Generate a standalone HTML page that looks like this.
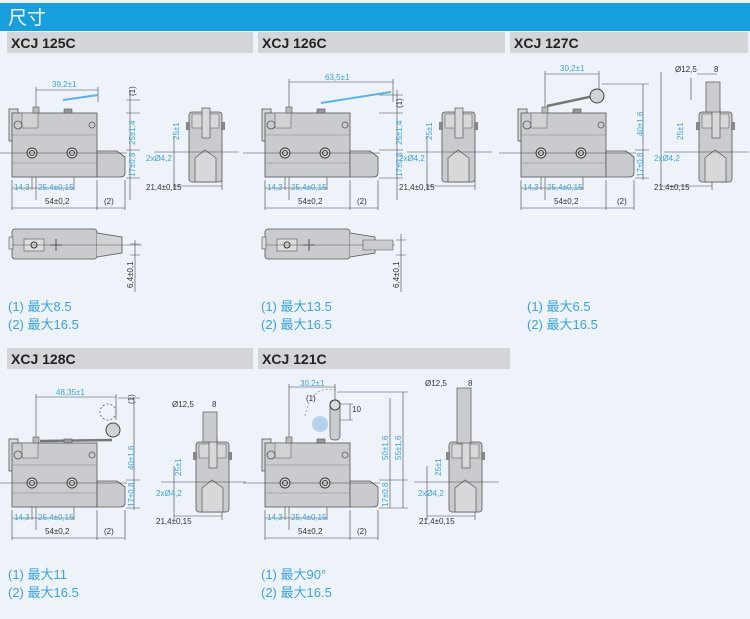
<!DOCTYPE html>
<html><head><meta charset="utf-8"><style>
body{margin:0;width:750px;height:619px;background:#eef3fa;overflow:hidden;font-family:"Liberation Sans","Noto Sans CJK SC",sans-serif}
svg{position:absolute;left:0;top:0}
.d{font-size:8px;fill:#3aa3df}
.k{font-size:8px;fill:#333}
.n{font-size:13px;fill:#3aa3df}
.h{font-size:14px;font-weight:bold;fill:#222}
</style></head><body>
<svg width="750" height="619" viewBox="0 0 750 619">
<defs>
<g id="body">
<rect x="-3" y="-4" width="9" height="32" fill="#d6d8da" stroke="#555" stroke-width="0.8"/>
<rect x="0" y="0" width="85" height="64" fill="#c9cbce" stroke="#555" stroke-width="0.8"/>
<line x1="0" y1="22" x2="85" y2="22" stroke="#888" stroke-width="0.6"/>
<line x1="0" y1="50" x2="85" y2="50" stroke="#888" stroke-width="0.6"/>
<rect x="10" y="0" width="16" height="15" fill="#d0d2d4" stroke="#666" stroke-width="0.6"/>
<rect x="21" y="-6" width="6" height="6" fill="#bbb" stroke="#555" stroke-width="0.6"/>
<rect x="52" y="-4" width="8" height="4" fill="#999" stroke="#555" stroke-width="0.6"/>
<circle cx="6" cy="12" r="4" fill="none" stroke="#555" stroke-width="0.8"/>
<circle cx="80" cy="12" r="3" fill="none" stroke="#555" stroke-width="0.8"/>
<circle cx="20" cy="40" r="5" fill="#ddd" stroke="#333" stroke-width="0.9"/>
<circle cx="20" cy="40" r="2.5" fill="none" stroke="#333"/>
<circle cx="60" cy="40" r="5" fill="#ddd" stroke="#333" stroke-width="0.9"/>
<circle cx="60" cy="40" r="2.5" fill="none" stroke="#333"/>
<path d="M85 38 H105 L113 44 V60 Q113 64 108 64 H85 Z" fill="#c9cbce" stroke="#555" stroke-width="0.8"/>
<line x1="-22" y1="40" x2="115" y2="40" stroke="#444" stroke-width="0.5"/>
</g>
<g id="side">
<rect x="0" y="0" width="33" height="70" rx="3" fill="#c9cbce" stroke="#555" stroke-width="0.8"/>
<rect x="3" y="2" width="27" height="14" fill="#d6d8da" stroke="#666" stroke-width="0.6"/>
<rect x="13" y="-4" width="8" height="30" fill="#d6d8da" stroke="#555" stroke-width="0.7"/>
<rect x="-3" y="10" width="4" height="8" fill="#888"/><rect x="32" y="10" width="4" height="8" fill="#888"/>
<path d="M6 46 L16 38 L27 46 V70 H6 Z" fill="#d6d8da" stroke="#555" stroke-width="0.7"/>
<line x1="-35" y1="40" x2="50" y2="40" stroke="#444" stroke-width="0.5"/>
</g>
<g id="bot">
<rect x="0" y="0" width="85" height="30" rx="3" fill="#c9cbce" stroke="#555" stroke-width="0.8"/>
<rect x="-3" y="8" width="4" height="12" fill="#ddd" stroke="#555" stroke-width="0.6"/>
<rect x="12" y="10" width="20" height="12" fill="#ddd" stroke="#555" stroke-width="0.6"/>
<circle cx="22" cy="16" r="3" fill="none" stroke="#333"/>
<path d="M38 16 H50 M44 10 V22" stroke="#333" stroke-width="0.8"/>
<path d="M85 4 L110 8 V24 L85 28" fill="#d0d2d4" stroke="#555" stroke-width="0.8"/>
<line x1="0" y1="16" x2="130" y2="16" stroke="#555" stroke-width="0.5"/>
</g>
</defs>

<rect x="0" y="3" width="750" height="28" fill="#169fdc"/>
<text x="8" y="24" style="font-size:19px;fill:#fff">尺寸</text>
<rect x="7" y="32" width="246" height="21" fill="#d3d5d8"/>
<rect x="258" y="32" width="247" height="21" fill="#d3d5d8"/>
<rect x="510" y="32" width="238" height="21" fill="#d3d5d8"/>
<rect x="7" y="348" width="246" height="21" fill="#d3d5d8"/>
<rect x="258" y="348" width="252" height="21" fill="#d3d5d8"/>
<text class="h" x="11" y="48">XCJ 125C</text>
<text class="h" x="262" y="48">XCJ 126C</text>
<text class="h" x="514" y="48">XCJ 127C</text>
<text class="h" x="11" y="364">XCJ 128C</text>
<text class="h" x="262" y="364">XCJ 121C</text>

<!-- Panel 1 -->
<g stroke="#444" stroke-width="0.6" fill="none">
<path d="M36 90 H98 M36 87 V200 M98 87 V102 M12 180 V210 M97 180 V210 M125 180 V210 M12 208 H125 M12 188 H74 M32 160 V190 M74 160 V190 M130 90 V200 M126 100 H140 M126 113 H140 M126 150 H140 M126 178 H140 M174 136 V190 M222 180 V190 M174 186 H222"/>
<path d="M63 100 L98 95" stroke="#5bb3e6" stroke-width="2"/>
</g>
<use href="#body" x="12" y="113"/>
<use href="#side" x="189" y="112"/>
<text class="d" x="52" y="87">39,2±1</text>
<text class="k" x="135" y="96" transform="rotate(-90 135 96)">(1)</text>
<text class="d" x="135" y="145" transform="rotate(-90 135 145)">25±1,4</text>
<text class="d" x="135" y="177" transform="rotate(-90 135 177)">17±0,8</text>
<text class="d" x="14" y="190">14,3</text><text class="d" x="38" y="190">25,4±0,15</text>
<text class="k" x="45" y="204">54±0,2</text><text class="k" x="104" y="204">(2)</text>
<text class="d" x="179" y="140" transform="rotate(-90 179 140)">25±1</text>
<text class="d" x="146" y="161">2xØ4,2</text>
<text class="k" x="146" y="190">21,4±0,15</text>
<use href="#bot" x="12" y="229"/>
<path d="M135 240 V292 M130 244 H140 M130 255 H140" stroke="#444" stroke-width="0.6"/>
<text class="k" x="133" y="288" transform="rotate(-90 133 288)">6,4±0,1</text>
<text class="n" x="8" y="311">(1) 最大8.5</text>
<text class="n" x="8" y="329">(2) 最大16.5</text>

<!-- Panel 2 -->
<g transform="translate(253,0)">
<g stroke="#444" stroke-width="0.6" fill="none">
<path d="M36 82 H140 M36 79 V200 M140 79 V102 M12 180 V210 M97 180 V210 M125 180 V210 M12 208 H125 M12 188 H74 M32 160 V190 M74 160 V190 M144 90 V200 M126 95 H150 M126 113 H150 M126 150 H150 M126 178 H150 M174 136 V190 M222 180 V190 M174 186 H222"/>
<path d="M68 103 L138 92" stroke="#5bb3e6" stroke-width="2"/>
</g>
<use href="#body" x="12" y="113"/>
<use href="#side" x="189" y="112"/>
<text class="d" x="72" y="80">63,5±1</text>
<text class="k" x="149" y="108" transform="rotate(-90 149 108)">(1)</text>
<text class="d" x="149" y="145" transform="rotate(-90 149 145)">25±1,4</text>
<text class="d" x="149" y="177" transform="rotate(-90 149 177)">17±0,8</text>
<text class="d" x="14" y="190">14,3</text><text class="d" x="38" y="190">25,4±0,15</text>
<text class="k" x="45" y="204">54±0,2</text><text class="k" x="104" y="204">(2)</text>
<text class="d" x="179" y="140" transform="rotate(-90 179 140)">25±1</text>
<text class="d" x="146" y="161">2xØ4,2</text>
<text class="k" x="146" y="190">21,4±0,15</text>
<use href="#bot" x="12" y="229"/>
<path d="M110 240 H140 V250 H110 Z" fill="#c9cbce" stroke="#555" stroke-width="0.6"/>
<path d="M148 234 V292 M143 240 H153 M143 255 H153" stroke="#444" stroke-width="0.6"/>
<text class="k" x="146" y="288" transform="rotate(-90 146 288)">6,4±0,1</text>
<text class="n" x="8" y="311">(1) 最大13.5</text>
<text class="n" x="8" y="329">(2) 最大16.5</text>
</g>

<!-- Panel 3 -->
<g transform="translate(517,0)">
<g stroke="#444" stroke-width="0.6" fill="none">
<path d="M28 74 H82 M28 71 V200 M82 71 V90 M4 180 V210 M89 180 V210 M117 180 V210 M4 208 H117 M4 188 H66 M24 160 V190 M66 160 V190 M126 84 V180 M85 84 H132 M118 150 H132 M118 178 H132 M144 72 V190 M195 180 V190 M144 186 H195 M180 74 H200 M174 78 V100"/>
<path d="M30 106 L77 96" stroke="#777" stroke-width="2.5"/>
</g>
<use href="#body" x="4" y="113"/>
<circle cx="80" cy="96" r="7" fill="#d0d2d4" stroke="#444"/>
<use href="#side" x="182" y="112"/>
<rect x="189" y="82" width="14" height="30" fill="#c9cbce" stroke="#555" stroke-width="0.7"/>
<text class="d" x="43" y="71">30,2±1</text>
<text class="d" x="126" y="136" transform="rotate(-90 126 136)">40±1,6</text>
<text class="d" x="126" y="177" transform="rotate(-90 126 177)">17±0,8</text>
<text class="d" x="6" y="190">14,3</text><text class="d" x="30" y="190">25,4±0,15</text>
<text class="k" x="37" y="204">54±0,2</text><text class="k" x="100" y="204">(2)</text>
<text class="k" x="158" y="72">Ø12,5</text><text class="k" x="197" y="72">8</text>
<text class="d" x="166" y="140" transform="rotate(-90 166 140)">25±1</text>
<text class="d" x="137" y="161">2xØ4,2</text>
<text class="k" x="137" y="190">21,4±0,15</text>
<text class="n" x="10" y="311">(1) 最大6.5</text>
<text class="n" x="10" y="329">(2) 最大16.5</text>
</g>

<!-- Panel 4 -->
<g transform="translate(0,330)">
<g stroke="#444" stroke-width="0.6" fill="none">
<path d="M36 67 H116 M36 64 V200 M116 64 V90 M12 180 V210 M97 180 V210 M125 180 V210 M12 208 H125 M12 188 H74 M32 160 V190 M74 160 V190 M134 68 V180 M118 68 H140 M126 150 H140 M126 178 H140 M174 136 V190 M222 180 V190 M174 186 H222"/>
<path d="M40 111 L112 110" stroke="#777" stroke-width="2.5"/>
</g>
<use href="#body" x="12" y="113"/>
<circle cx="113" cy="100" r="7" fill="#d0d2d4" stroke="#444"/>
<circle cx="108" cy="82" r="8" fill="none" stroke="#777" stroke-dasharray="2 2"/>
<use href="#side" x="196" y="112"/>
<rect x="203" y="82" width="14" height="30" fill="#c9cbce" stroke="#555" stroke-width="0.7"/>
<text class="d" x="56" y="65">48,35±1</text>
<text class="k" x="134" y="74" transform="rotate(-90 134 74)">(1)</text>
<text class="d" x="134" y="140" transform="rotate(-90 134 140)">40±1,6</text>
<text class="d" x="134" y="177" transform="rotate(-90 134 177)">17±0,8</text>
<text class="d" x="14" y="190">14,3</text><text class="d" x="38" y="190">25,4±0,15</text>
<text class="k" x="45" y="204">54±0,2</text><text class="k" x="104" y="204">(2)</text>
<text class="k" x="172" y="77">Ø12,5</text><text class="k" x="212" y="77">8</text>
<text class="d" x="181" y="146" transform="rotate(-90 181 146)">25±1</text>
<text class="d" x="156" y="166">2xØ4,2</text>
<text class="k" x="156" y="194">21,4±0,15</text>
<text class="n" x="8" y="249">(1) 最大11</text>
<text class="n" x="8" y="267">(2) 最大16.5</text>
</g>

<!-- Panel 5 -->
<g transform="translate(253,330)">
<g stroke="#444" stroke-width="0.6" fill="none">
<path d="M36 57 H82 M36 54 V200 M82 54 V80 M12 180 V210 M97 180 V210 M125 180 V210 M12 208 H125 M12 188 H74 M32 160 V190 M74 160 V190 M137 68 V178 M150 62 V178 M84 62 H155 M126 150 H155 M126 178 H155 M174 136 V190 M222 180 V190 M174 186 H222 M85 74 H100 M85 90 H100 M97 74 V90"/>
<path d="M52 86 Q58 55 82 60" stroke="#777" stroke-dasharray="2 2"/>
</g>
<circle cx="67" cy="94" r="8" fill="#a8c8e8" opacity="0.8"/>
<rect x="77" y="70" width="10" height="40" rx="4" fill="#c9cbce" stroke="#555" stroke-width="0.7"/>
<circle cx="82" cy="75" r="5" fill="#ddd" stroke="#444"/>
<use href="#body" x="12" y="113"/>
<use href="#side" x="196" y="112"/>
<rect x="204" y="58" width="14" height="55" fill="#c9cbce" stroke="#555" stroke-width="0.7"/>
<text class="d" x="47" y="56">30,2±1</text>
<text class="k" x="53" y="71">(1)</text>
<text class="k" x="99" y="82">10</text>
<text class="d" x="135" y="130" transform="rotate(-90 135 130)">50±1,6</text>
<text class="d" x="148" y="130" transform="rotate(-90 148 130)">55±1,6</text>
<text class="d" x="135" y="177" transform="rotate(-90 135 177)">17±0,8</text>
<text class="d" x="14" y="190">14,3</text><text class="d" x="38" y="190">25,4±0,15</text>
<text class="k" x="45" y="204">54±0,2</text><text class="k" x="104" y="204">(2)</text>
<text class="k" x="172" y="56">Ø12,5</text><text class="k" x="215" y="56">8</text>
<text class="d" x="188" y="146" transform="rotate(-90 188 146)">25±1</text>
<text class="d" x="165" y="166">2xØ4,2</text>
<text class="k" x="166" y="194">21,4±0,15</text>
<text class="n" x="8" y="249">(1) 最大90°</text>
<text class="n" x="8" y="267">(2) 最大16.5</text>
</g>
</svg>
</body></html>
